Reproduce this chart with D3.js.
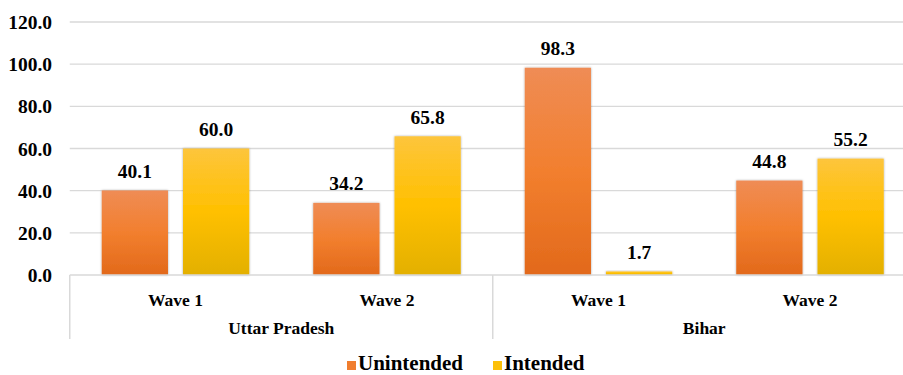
<!DOCTYPE html>
<html>
<head>
<meta charset="utf-8">
<script src="https://cdn.jsdelivr.net/npm/d3@7/dist/d3.min.js"></script>
<style>
  html, body { margin: 0; padding: 0; background: #fff; }
  svg { display: block; }
</style>
</head>
<body>
<svg id="chart" width="903" height="375" font-family="Liberation Serif" font-weight="bold"></svg>
<script>
// Chart data
const states = ["Uttar Pradesh", "Bihar"];
const waves = ["Wave 1", "Wave 2"];
const seriesNames = ["Unintended", "Intended"];
const unintended = [40.1, 34.2, 98.3, 44.8];
const intended = [60.0, 65.8, 1.7, 55.2];
const yTicks = [0, 20, 40, 60, 80, 100, 120];

const FONT = "Liberation Serif";
const categories = [];
states.forEach(s => waves.forEach(w => categories.push({ state: s, wave: w, key: s + "|" + w })));
const rows = categories.map((c, i) => ({ ...c, values: [unintended[i], intended[i]] }));

const svg = d3.select("#chart");
const left = 69.75, bandW = 211.5;
const x0 = d3.scaleBand().domain(categories.map(c => c.key))
  .range([left, left + bandW * categories.length]).paddingInner(0).paddingOuter(0);
const x1 = d3.scaleBand().domain(seriesNames).range([32, bandW - 32]).paddingInner(0.185);
const y = d3.scaleLinear().domain([0, 120]).range([275, 22]);

// Gradients per series
const defs = svg.append("defs");
const grads = {
  Unintended: ["#ef8c55", "#f27f2e", "#e2691b"],
  Intended: ["#fdc53c", "#ffc000", "#e3b000"]
};
const colors = { Unintended: "#f07d2e", Intended: "#fcc00a" };
Object.entries(grads).forEach(([k, c]) => {
  const g = defs.append("linearGradient").attr("id", "g-" + k)
    .attr("x1", 0).attr("y1", 0).attr("x2", 0).attr("y2", 1);
  g.append("stop").attr("offset", "0%").attr("stop-color", c[0]);
  g.append("stop").attr("offset", "50%").attr("stop-color", c[1]);
  g.append("stop").attr("offset", "100%").attr("stop-color", c[2]);
});
const f = defs.append("filter").attr("id", "shadow").attr("x", "-20%").attr("y", "-20%").attr("width", "140%").attr("height", "140%");
f.append("feDropShadow").attr("dx", 0).attr("dy", 0).attr("stdDeviation", 1.2)
  .attr("flood-color", "#000").attr("flood-opacity", 0.35);

// Gridlines
svg.append("g").selectAll("line").data(yTicks.filter(t => t > 0)).join("line")
  .attr("x1", left).attr("x2", 903)
  .attr("y1", d => y(d)).attr("y2", d => y(d))
  .attr("stroke", "#d9d9d9").attr("stroke-width", 1.3);

// Y axis labels
const yAxis = d3.axisLeft(y).tickValues(yTicks).tickFormat(d3.format(".1f")).tickSize(0).tickPadding(0);
const ya = svg.append("g").attr("transform", "translate(52,0)").call(yAxis);
ya.attr("font-family", FONT).attr("font-size", 19.5).attr("font-weight", "bold");
ya.select(".domain").remove();
ya.selectAll("text").attr("fill", "#000").attr("dy", "0.34em");

// Bars
const groups = svg.append("g").selectAll("g").data(rows).join("g")
  .attr("transform", d => `translate(${x0(d.key)},0)`);
groups.selectAll("rect").data(d => d.values.map((v, i) => ({ name: seriesNames[i], v }))).join("rect")
  .attr("x", d => x1(d.name)).attr("width", x1.bandwidth())
  .attr("y", d => y(d.v)).attr("height", d => y(0) - y(d.v))
  .attr("fill", d => `url(#g-${d.name})`).attr("filter", "url(#shadow)");
groups.selectAll("text.val").data(d => d.values.map((v, i) => ({ name: seriesNames[i], v }))).join("text")
  .attr("class", "val")
  .attr("x", d => x1(d.name) + x1.bandwidth() / 2).attr("y", d => y(d.v) - 12.5)
  .attr("text-anchor", "middle").attr("font-family", FONT).attr("font-weight", "bold").attr("font-size", 19.5)
  .text(d => d.v.toFixed(1));

// X axis baseline and group separators
svg.append("line").attr("x1", left).attr("x2", 903).attr("y1", y(0)).attr("y2", y(0))
  .attr("stroke", "#d9d9d9").attr("stroke-width", 1.5);
const stateStarts = states.map(s => x0(categories.find(c => c.state === s).key));
svg.append("g").selectAll("line").data(stateStarts).join("line")
  .attr("x1", d => d).attr("x2", d => d).attr("y1", y(0)).attr("y2", 339)
  .attr("stroke", "#d9d9d9").attr("stroke-width", 1.5);

// Wave labels
svg.append("g").selectAll("text").data(categories).join("text")
  .attr("x", d => x0(d.key) + bandW / 2).attr("y", 306)
  .attr("text-anchor", "middle").attr("font-family", FONT).attr("font-weight", "bold").attr("font-size", 17.5)
  .text(d => d.wave);
// State labels
svg.append("g").selectAll("text").data(states).join("text")
  .attr("x", (d, i) => stateStarts[i] + bandW).attr("y", 334)
  .attr("text-anchor", "middle").attr("font-family", FONT).attr("font-weight", "bold").attr("font-size", 17.5)
  .text(d => d);

// Legend
const legendX = [347, 493];
const lg = svg.append("g").selectAll("g").data(seriesNames).join("g")
  .attr("transform", (d, i) => `translate(${legendX[i]},370)`);
lg.append("rect").attr("x", 0).attr("y", -9).attr("width", 9).attr("height", 9).attr("fill", d => colors[d]);
lg.append("text").attr("x", 11).attr("y", 0).attr("font-family", FONT).attr("font-weight", "bold").attr("font-size", 21).text(d => d);
</script>
</body>
</html>
